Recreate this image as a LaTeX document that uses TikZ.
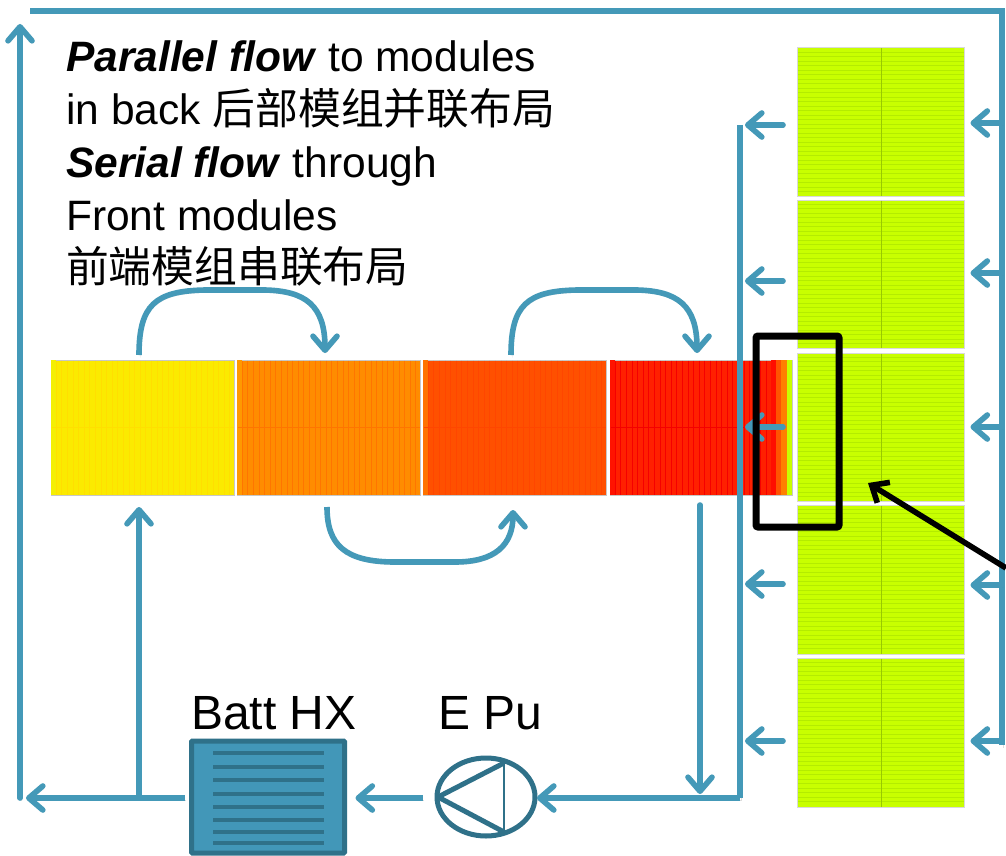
\documentclass[tikz,border=0pt]{standalone}
\usepackage{fontspec}
\setmainfont{Liberation Sans}
\newfontfamily\cjk[Scale=1.007]{Noto Sans CJK SC}
\usetikzlibrary{arrows.meta}
\definecolor{pipecol}{HTML}{4499B8}
\definecolor{hxfill}{HTML}{4297B8}
\definecolor{hxedge}{HTML}{2F7189}
\definecolor{lime}{HTML}{C8FF00}
\definecolor{limeline}{HTML}{B4EC00}
\tikzset{
  x=1pt,y=-1pt,
  pipe/.style={draw=pipecol,line width=5.6pt,
    preaction={draw=black,opacity=.13,transform canvas={shift={(1.2pt,-2.5pt)}}}},
  flow/.style={pipe,line cap=round,-{Straight Barb[length=14pt,width=24pt,line width=5.6pt,round]}},
  frontmod/.style={draw=black!22,line width=1pt,inner sep=0pt,minimum width=183pt,minimum height=135pt},
  backmod/.style={draw=black!15,line width=1pt,fill=lime,inner sep=0pt,minimum width=167pt,minimum height=148pt},
  tagtext/.style={font=\fontsize{48}{52}\selectfont,inner sep=0pt,anchor=base west},
  pumpline/.style={draw=hxedge,line width=5pt},
}
\newcommand{\frontlines}[2]{%
  \foreach \k in {1,...,32}{\draw[#2,line width=.5pt,shorten >=1pt,shorten <=1pt] ([xshift=\k*5.6pt]#1.north west) -- ([xshift=\k*5.6pt]#1.south west);}
  \draw[#2,line width=.8pt,shorten >=1pt,shorten <=1pt] (#1.west) -- (#1.east);}
\newcommand{\backlines}[1]{%
  \foreach \k in {1,...,32}{\draw[limeline,line width=.6pt,shorten >=1pt,shorten <=1pt] ([yshift=-\k*4.5pt]#1.north west) -- ([yshift=-\k*4.5pt]#1.north east);}
  \draw[limeline!85!black,line width=.9pt,shorten >=1pt,shorten <=1pt] (#1.north) -- (#1.south);}
\begin{document}
\begin{tikzpicture}
\useasboundingbox (0,0) rectangle (1006,856);
\fill[white] (0,0) rectangle (1006,856);

% front modules
\node[frontmod,fill={rgb,255:red,251;green,234;blue,0}] (m1) at (142.5,427.5) {};
\fill[yellow!80!lime] ([shift={(.5pt,-.5pt)}]m1.north west) rectangle ([shift={(5.5pt,.5pt)}]m1.south west);
\frontlines{m1}{orange!25!yellow}
\node[frontmod,fill={rgb,255:red,255;green,140;blue,0}] (m2) at (328.5,427.5) {};
\fill[orange!80!yellow] ([shift={(.5pt,-.5pt)}]m2.north west) rectangle ([shift={(5.5pt,.5pt)}]m2.south west);
\frontlines{m2}{orange!92!red}
\node[frontmod,fill={rgb,255:red,255;green,80;blue,0}] (m3) at (514.5,427.5) {};
\fill[orange!90!red] ([shift={(.5pt,-.5pt)}]m3.north west) rectangle ([shift={(5.5pt,.5pt)}]m3.south west);
\frontlines{m3}{red!45!orange}
\node[frontmod,minimum width=182pt,fill={rgb,255:red,255;green,32;blue,0}] (m4) at (701,427.5) {};
\fill[red!85!orange] ([shift={(.5pt,-.5pt)}]m4.north west) rectangle ([shift={(5.5pt,.5pt)}]m4.south west);
\frontlines{m4}{red!96!black}
\fill[orange!10!red]  ([shift={(-22pt,-.5pt)}]m4.north east) rectangle ([shift={(-17pt,.5pt)}]m4.south east);
\fill[orange!65!red]  ([shift={(-17pt,-.5pt)}]m4.north east) rectangle ([shift={(-11.5pt,.5pt)}]m4.south east);
\fill[orange]         ([shift={(-11.5pt,-.5pt)}]m4.north east) rectangle ([shift={(-6pt,.5pt)}]m4.south east);
\fill[lime]           ([shift={(-6pt,-.5pt)}]m4.north east) rectangle ([shift={(-1pt,.5pt)}]m4.south east);

% back modules
\node[backmod] (b1) at (881,122) {};
\node[backmod] (b2) at (881,274) {};
\node[backmod] (b3) at (881,427) {};
\node[backmod,minimum height=149pt] (b4) at (881,579.5) {};
\node[backmod,minimum height=149pt] (b5) at (881,732.5) {};
\foreach \n in {b1,b2,b3,b4,b5}{\backlines{\n}}

% pipe junctions
\coordinate (topR) at (1002,11);
\coordinate (topL) at (30,11);
\coordinate (rightEnd) at (1002,745);
\coordinate (leftTop) at (20,24);
\coordinate (leftBot) at (20,798);
\coordinate (leftTip) at (26,798);
\coordinate (hxUp) at (139,798);
\coordinate (m1In) at (139,507);
\coordinate (collTop) at (740,125);
\coordinate (collBot) at (740,798);
\coordinate (retTop) at (700,505);
\coordinate (retBot) at (700,794);

% pipes
\draw[pipe] (rightEnd) -- (topR) -- (topL);
\draw[pipe] (collTop) -- (collBot);
\foreach \i/\yl/\yr in {1/125/123,2/281/273,3/427/427,4/584/585,5/741/741}{
  \coordinate (ls\i) at (783,\yl);
  \coordinate (lt\i) at (745,\yl);
  \coordinate (rs\i) at (1002,\yr);
  \coordinate (rt\i) at (970.5,\yr);
  \draw[flow] (ls\i) -- (lt\i);
  \draw[flow] (rs\i) -- (rt\i);
}
\draw[flow] (retTop) -- (retBot);
\draw[flow] (hxUp) -- (m1In);
\draw[flow] (leftBot) -- (leftTop);

% curved series connections
\coordinate (c1s) at (139,355);
\coordinate (c1e) at (325,353);
\coordinate (c2s) at (511,355);
\coordinate (c2e) at (697,353);
\coordinate (c3s) at (327,507);
\coordinate (c3e) at (513,510);
\draw[flow,line cap=butt] (c1s) .. controls (139,305) and (155,291) .. (205,290) -- (265,290) .. controls (305,291) and (325,305) .. (c1e);
\draw[flow,line cap=butt] (c2s) .. controls (511,305) and (527,291) .. (577,290) -- (637,290) .. controls (677,291) and (697,305) .. (c2e);
\draw[flow,line cap=butt] (c3s) .. controls (327,545) and (345,562) .. (395,562) -- (455,562) .. controls (495,562) and (513,545) .. (c3e);

% heat exchanger and pump
\node[draw=hxedge,line width=5pt,fill=hxfill,rounded corners=1pt,minimum width=153pt,minimum height=112pt,inner sep=0pt] (hx) at (268,797) {};
\foreach \yy in {753,767,780,794,807,820,832,843}{
  \draw[hxedge,line width=3.4pt] ([yshift=797pt-\yy pt,xshift=-55pt]hx.center) -- ([yshift=797pt-\yy pt,xshift=56pt]hx.center);
}
\draw[pumpline] (486,797) ellipse [x radius=49,y radius=39];
\coordinate (puL) at (438,797);
\coordinate (puT) at (504,763);
\coordinate (puB) at (504,832);
\draw[pumpline,line join=round] (puT) -- (puL) -- (puB);
\draw[hxedge,line width=1.2pt] (puT) -- (puB);
\coordinate (pumpIn) at (740,798);
\coordinate (pumpTip) at (537,798);
\coordinate (pumpOut) at (423,798);
\coordinate (hxIn) at (355.5,798);
\coordinate (hxOut) at (185,798);
\draw[flow,line cap=butt] (pumpIn) -- (pumpTip);
\draw[flow,line cap=butt] (pumpOut) -- (hxIn);
\draw[flow,line cap=butt] (hxOut) -- (leftTip);

% labels
\node[tagtext] (lhx) at (191,729) {Batt HX};
\node[tagtext] (lpu) at (438,729) {E Pu};
\node[anchor=north west,inner sep=0pt,align=left,font=\fontsize{42.5}{52.75}\selectfont] (note) at (66,41)
  {\textbf{\textit{Parallel flow}} to modules\\
   in back {\cjk 后部模组并联布局}\\
   \textbf{\textit{Serial flow}} through\\
   Front modules\\
   {\cjk 前端模组串联布局}};

% black callout
\node[draw=black,line width=7pt,rounded corners=2pt,inner sep=0pt,minimum width=83pt,minimum height=191pt] (focus) at (797.5,431.5) {};
\coordinate (calloutEnd) at (1006,568);
\coordinate (calloutTip) at (868,483);
\draw[draw=black,line width=5.6pt,-{Straight Barb[length=14pt,width=24pt,line width=5.6pt]},preaction={draw=black,opacity=.12,transform canvas={shift={(1pt,-2pt)}}}] (calloutEnd) -- (calloutTip);
\end{tikzpicture}
\end{document}
